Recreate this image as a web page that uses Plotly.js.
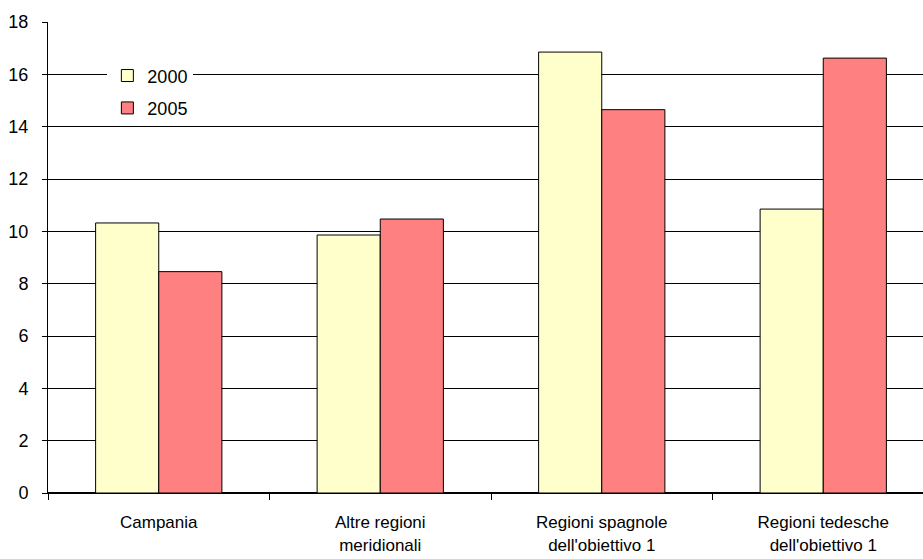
<!DOCTYPE html>
<html>
<head>
<meta charset="utf-8">
<script src="https://cdn.plot.ly/plotly-3.0.1.min.js"></script>
<style>
html,body{margin:0;padding:0;overflow:hidden;background:#fff;}
#chart{width:940px;height:559px;}
</style>
</head>
<body>
<div id="chart"></div>
<script>
const categories = ["Campania", "Altre regioni<br>meridionali", "Regioni spagnole<br>dell'obiettivo 1", "Regioni tedesche<br>dell'obiettivo 1"];
const values2000 = [10.32, 9.86, 16.85, 10.85];
const values2005 = [8.46, 10.47, 14.65, 16.62];
const seriesNames = ["2000", "2005"];
const yTicks = [0, 2, 4, 6, 8, 10, 12, 14, 16, 18];

const traces = [
  {type: "bar", name: seriesNames[0], x: categories, y: values2000, legendgroup: "a",
   marker: {color: "#FFFFCC", line: {color: "#000", width: 1}}},
  {type: "bar", name: seriesNames[1], x: categories, y: values2005, legendgroup: "b",
   marker: {color: "#FF8080", line: {color: "#000", width: 1}}}
];

const layout = {
  width: 940, height: 559,
  margin: {l: 48, r: 6, t: 22, b: 66},
  paper_bgcolor: "#fff", plot_bgcolor: "#fff",
  font: {family: "Liberation Sans, Arial, sans-serif", color: "#000", size: 18},
  barmode: "group", bargap: 0.43, bargroupgap: 0,
  showlegend: true,
  legend: {x: 0.067, y: 0.925, xanchor: "left", yanchor: "top", bgcolor: "#fff",
           font: {size: 18}, tracegroupgap: 6, borderwidth: 0, itemwidth: 30},
  xaxis: {type: "category", showgrid: false, showline: true, linecolor: "#000", linewidth: 1,
          ticks: "outside", tickson: "boundaries", ticklen: 6, tickcolor: "#000",
          tickfont: {size: 17}, zeroline: false, ticklabelstandoff: 14},
  yaxis: {range: [0, 18], tickvals: yTicks, ticktext: yTicks.map(String), showgrid: true,
          gridcolor: "#000", gridwidth: 1, showline: true, linecolor: "#000", linewidth: 1,
          ticks: "outside", ticklen: 5, tickcolor: "#000", zeroline: true, zerolinecolor: "#000",
          zerolinewidth: 2, tickfont: {size: 18}, ticklabelstandoff: 10, mirror: false}
};

Plotly.newPlot("chart", traces, layout, {displayModeBar: false, staticPlot: true});
</script>
</body>
</html>
